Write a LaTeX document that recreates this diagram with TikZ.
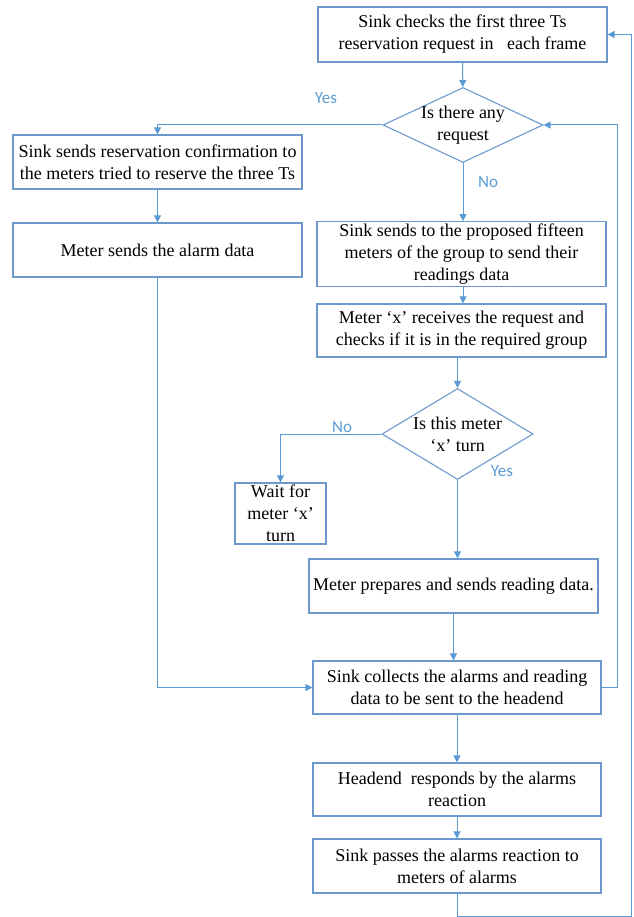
\documentclass[tikz,border=0pt]{standalone}
\usepackage{fontspec}
\setmainfont{Liberation Serif}
\newfontfamily\answerfont{Carlito}
\usetikzlibrary{shapes.geometric,arrows.meta}
\definecolor{lineblue}{RGB}{91,155,213}
\definecolor{boxblue}{RGB}{108,152,206}
\tikzset{
  box/.style={draw=boxblue, line width=1.1pt, minimum width=289pt,
    minimum height=54pt, align=center, inner sep=2pt,
    font=\fontsize{18}{22}\selectfont},
  decision/.style={diamond, draw=boxblue, line width=1.1pt, inner sep=-2pt,
    align=center, font=\fontsize{18}{22}\selectfont},
  flow/.style={draw=lineblue, line width=1pt, -{Triangle[length=7pt,width=7pt]}},
  answer/.style={text=lineblue, font=\answerfont\fontsize{17}{20}\selectfont}
}
\begin{document}
\begin{tikzpicture}[x=1pt,y=-1pt]
  \useasboundingbox (0,0) rectangle (633,917);

  % right column
  \node[box, minimum height=55pt] (check) at (462.5,34.5)
    {Sink checks the first three Ts\\reservation request in\ \ \ each frame};
  \node[decision, aspect=2.1, minimum width=160pt, minimum height=75pt]
    (anyreq) at (463,125) {Is there any\\request};
  \node[box, minimum height=62pt] (proposed) at (461.5,254)
    {Sink sends to the proposed fifteen\\meters of the group to send their\\readings data};
  \node[box, minimum height=53pt] (receives) at (461.5,330.5)
    {Meter ‘x’ receives the request and\\checks if it is in the required group};
  \node[decision, aspect=1.66, minimum width=151pt, minimum height=91pt]
    (turn) at (457.5,434) {Is this meter\\‘x’ turn};
  \node[box, minimum width=91pt, minimum height=61pt] (wait) at (280.5,513.5)
    {Wait for\\meter ‘x’\\turn};
  \node[box] (prepares) at (453.5,586) {Meter prepares and sends reading data.};
  \node[box, minimum width=288pt, minimum height=53pt] (collects) at (457,687.5)
    {Sink collects the alarms and reading\\data to be sent to the headend};
  \node[box, minimum width=288pt, minimum height=53pt] (headend) at (457,789.5)
    {Headend\ \ responds by the alarms\\reaction};
  \node[box, minimum width=288pt] (passes) at (457,866)
    {Sink passes the alarms reaction to\\meters of alarms};

  % left column
  \node[box] (confirm) at (157.5,162)
    {Sink sends reservation confirmation to\\the meters tried to reserve the three Ts};
  \node[box] (alarm) at (157.5,250) {Meter sends the alarm data};

  % answers
  \node[answer] (yes1) at (326,98) {Yes};
  \node[answer] (no1) at (488,182) {No};
  \node[answer] (no2) at (342,427) {No};
  \node[answer] (yes2) at (502,471) {Yes};

  \coordinate (inner) at (617,0);
  \coordinate (outer) at (631,916);

  % connectors
  \draw[flow] (check) -- (anyreq);
  \draw[flow] (anyreq.west) -| (confirm.north);
  \draw[flow] (confirm) -- (alarm);
  \draw[flow] (alarm.south) |- (collects.west);
  \draw[flow] (anyreq.south) -- (proposed.north -| anyreq.south);
  \draw[flow] (proposed.south -| anyreq.south) -- (receives.north -| anyreq.south);
  \draw[flow] (receives.south -| turn.north) -- (turn.north);
  \draw[flow] (turn.west) -| (wait.north);
  \draw[flow] (turn.south) -- (prepares.north -| turn.south);
  \draw[flow] (prepares.south) -- (collects.north -| prepares.south);
  \draw[flow] (collects.east) -- (collects.east -| inner) |- (anyreq.east);
  \draw[flow] (collects) -- (headend);
  \draw[flow] (headend) -- (passes);
  \draw[flow] (passes.south) |- (outer) |- (check.east);
\end{tikzpicture}
\end{document}
